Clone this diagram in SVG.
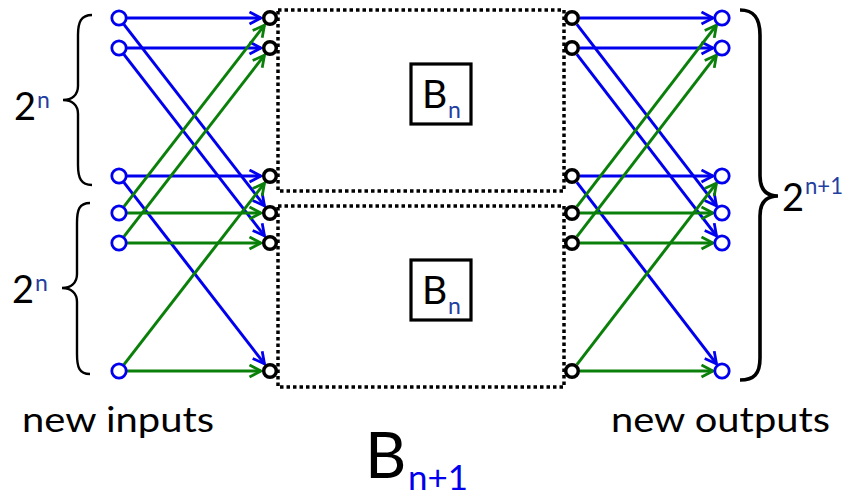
<svg xmlns="http://www.w3.org/2000/svg" width="845" height="498" viewBox="0 0 845 498">
<style>
.b{stroke:#0000ee;stroke-width:3;fill:none;marker-end:url(#ab)}
.g{stroke:#0a800a;stroke-width:3;fill:none;marker-end:url(#ag)}
.in{fill:#fff;stroke:#0000ee;stroke-width:2.8}
.pt{fill:#fff;stroke:#000;stroke-width:3.5}
.dot{fill:none;stroke:#000;stroke-width:3.5;stroke-dasharray:3.5 3}
.box{fill:#fff;stroke:#000;stroke-width:3.2}
.br{fill:none;stroke:#000;stroke-width:2.4}
.t{font-family:Lato,"DejaVu Sans",sans-serif;fill:#000}
.s{font-family:Lato,"DejaVu Sans",sans-serif;fill:#1f40a0}
</style>
<defs>
<marker id="ab" viewBox="0 0 15 15" refX="13" refY="7.5" markerWidth="15" markerHeight="15" markerUnits="userSpaceOnUse" orient="auto">
<path d="M1.5,1.5 L13,7.5 L1.5,13.5" fill="none" stroke="#0000ee" stroke-width="2.8"/>
</marker>
<marker id="ag" viewBox="0 0 15 15" refX="13" refY="7.5" markerWidth="15" markerHeight="15" markerUnits="userSpaceOnUse" orient="auto">
<path d="M1.5,1.5 L13,7.5 L1.5,13.5" fill="none" stroke="#0a800a" stroke-width="2.8"/>
</marker>
</defs>

<g id="subnetworks">
<rect id="top-net" class="dot" x="278" y="10" width="286" height="181"/>
<rect id="bottom-net" class="dot" x="278" y="206" width="286" height="181"/>
</g>

<g id="bn-top">
<rect class="box" x="411" y="64" width="60" height="60"/>
<text class="t" x="422" y="108" font-size="39">B</text>
<text class="s" x="448" y="118" font-size="23">n</text>
</g>
<g id="bn-bottom">
<rect class="box" x="411" y="260" width="60" height="60"/>
<text class="t" x="422" y="304" font-size="39">B</text>
<text class="s" x="448" y="314" font-size="23">n</text>
</g>

<g id="connectors">
<line class="b" x1="127" y1="18" x2="261" y2="18"/>
<line class="b" x1="127" y1="48" x2="261" y2="48"/>
<line class="b" x1="127" y1="176" x2="261" y2="176"/>
<line class="b" x1="123.9" y1="24.3" x2="264.5" y2="205.9"/>
<line class="b" x1="123.9" y1="54.3" x2="264.5" y2="235.9"/>
<line class="b" x1="123.9" y1="182.3" x2="264.5" y2="363.9"/>
<line class="g" x1="127" y1="213" x2="261" y2="213"/>
<line class="g" x1="127" y1="243" x2="261" y2="243"/>
<line class="g" x1="127" y1="371" x2="261" y2="371"/>
<line class="g" x1="123.9" y1="206.7" x2="264.5" y2="25.1"/>
<line class="g" x1="123.9" y1="236.7" x2="264.5" y2="55.1"/>
<line class="g" x1="123.9" y1="364.7" x2="264.5" y2="183.1"/>

<line class="b" x1="580" y1="18" x2="713" y2="18"/>
<line class="b" x1="580" y1="48" x2="713" y2="48"/>
<line class="b" x1="580" y1="176" x2="713" y2="176"/>
<line class="b" x1="576.9" y1="24.3" x2="716.5" y2="205.9"/>
<line class="b" x1="576.9" y1="54.3" x2="716.5" y2="235.9"/>
<line class="b" x1="576.9" y1="182.3" x2="716.5" y2="363.9"/>
<line class="g" x1="580" y1="213" x2="713" y2="213"/>
<line class="g" x1="580" y1="243" x2="713" y2="243"/>
<line class="g" x1="580" y1="371" x2="713" y2="371"/>
<line class="g" x1="576.9" y1="206.7" x2="716.5" y2="25.1"/>
<line class="g" x1="576.9" y1="236.7" x2="716.5" y2="55.1"/>
<line class="g" x1="576.9" y1="364.7" x2="716.5" y2="183.1"/>
</g>

<g id="inputs">
<circle class="in" cx="119" cy="18" r="7.2"/>
<circle class="in" cx="119" cy="48" r="7.2"/>
<circle class="in" cx="119" cy="176" r="7.2"/>
<circle class="in" cx="119" cy="213" r="7.2"/>
<circle class="in" cx="119" cy="243" r="7.2"/>
<circle class="in" cx="119" cy="371" r="7.2"/>
</g>
<g id="sub-inputs">
<circle class="pt" cx="270" cy="18" r="6.3"/>
<circle class="pt" cx="270" cy="48" r="6.3"/>
<circle class="pt" cx="270" cy="176" r="6.3"/>
<circle class="pt" cx="270" cy="213" r="6.3"/>
<circle class="pt" cx="270" cy="243" r="6.3"/>
<circle class="pt" cx="270" cy="371" r="6.3"/>
</g>
<g id="sub-outputs">
<circle class="pt" cx="572" cy="18" r="6.3"/>
<circle class="pt" cx="572" cy="48" r="6.3"/>
<circle class="pt" cx="572" cy="176" r="6.3"/>
<circle class="pt" cx="572" cy="213" r="6.3"/>
<circle class="pt" cx="572" cy="243" r="6.3"/>
<circle class="pt" cx="572" cy="371" r="6.3"/>
</g>
<g id="outputs">
<circle class="in" cx="722" cy="18" r="7.2"/>
<circle class="in" cx="722" cy="48" r="7.2"/>
<circle class="in" cx="722" cy="176" r="7.2"/>
<circle class="in" cx="722" cy="213" r="7.2"/>
<circle class="in" cx="722" cy="243" r="7.2"/>
<circle class="in" cx="722" cy="371" r="7.2"/>
</g>

<g id="brace-top">
<path class="br" d="M92,15 C81,15 78,22 78,35 L78,86 C78,95 72,100 63,100 C72,100 78,105 78,114 L78,165 C78,178 81,185 92,185"/>
<text class="t" x="14" y="120" font-size="38">2</text>
<text class="s" x="37" y="108" font-size="23">n</text>
</g>
<g id="brace-bottom">
<path class="br" d="M90,203 C79,203 77,210 77,223 L77,274 C77,283 71,288 62,288 C71,288 77,293 77,302 L77,354 C77,367 79,374 90,374"/>
<text class="t" x="12" y="303" font-size="38">2</text>
<text class="s" x="35" y="291" font-size="23">n</text>
</g>
<g id="brace-right">
<path d="M740,10 C754,10 760,18 760,35 L760,176 C760,189 766,196 778,196 C766,196 760,203 760,216 L760,358 C760,374 754,380 740,380" fill="none" stroke="#000" stroke-width="3.6"/>
<text class="t" x="782" y="211" font-size="38">2</text>
<text class="s" x="805" y="194" font-size="23" textLength="38" lengthAdjust="spacingAndGlyphs">n+1</text>
</g>

<g id="labels">
<text class="t" x="22" y="432" font-size="34" textLength="192" lengthAdjust="spacingAndGlyphs">new inputs</text>
<text class="t" x="611" y="432" font-size="34" textLength="219" lengthAdjust="spacingAndGlyphs">new outputs</text>
<text class="t" x="365" y="478" font-size="64">B</text>
<text x="408" y="490" font-size="34" font-family="Lato,'DejaVu Sans',sans-serif" fill="#0000ee" textLength="60" lengthAdjust="spacingAndGlyphs">n+1</text>
</g>
</svg>
